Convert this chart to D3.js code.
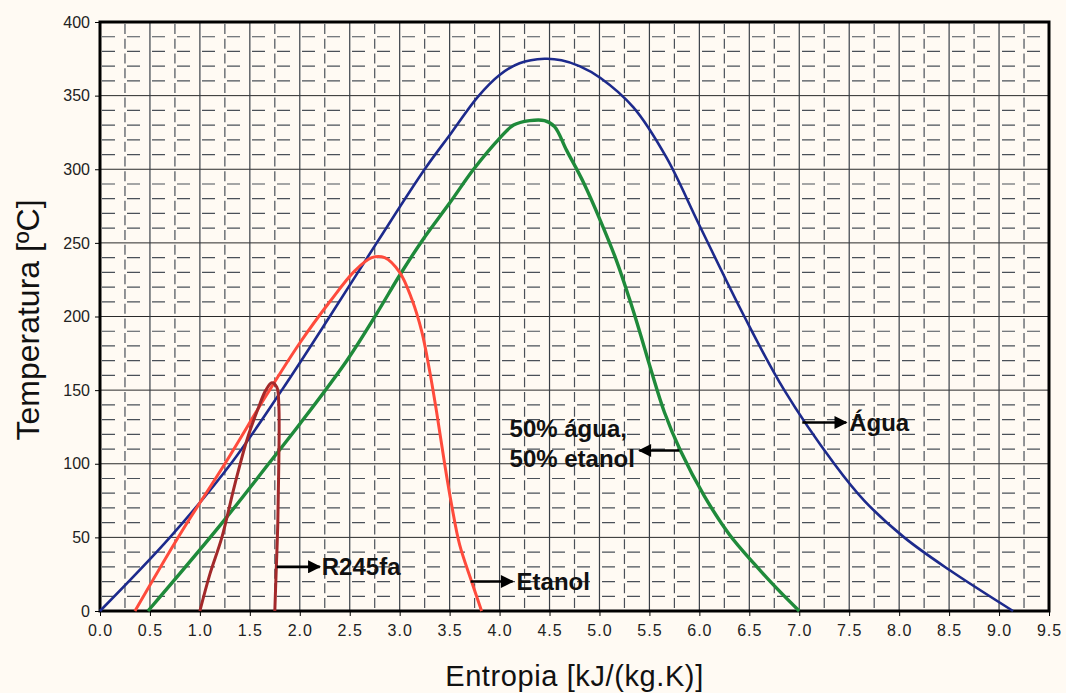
<!DOCTYPE html>
<html>
<head>
<meta charset="utf-8">
<script src="https://cdn.jsdelivr.net/npm/d3@7"></script>
<style>
  body { margin: 0; background: #fffaf3; }
  svg { display: block; font-family: "Liberation Sans", Arial, sans-serif; }
</style>
</head>
<body>
<svg id="chart"></svg>
<script>
// ticks
const xTicks = [0.0, 0.5, 1.0, 1.5, 2.0, 2.5, 3.0, 3.5, 4.0, 4.5, 5.0, 5.5, 6.0, 6.5, 7.0, 7.5, 8.0, 8.5, 9.0, 9.5]
const yTicks = [0, 50, 100, 150, 200, 250, 300, 350, 400]

// Agua (s, T)
const aguaS = [0.0, 0.7, 1.31, 1.82, 2.3, 2.77, 3.25, 3.52, 3.78, 4.0, 4.2, 4.45, 4.62, 4.8, 5.01, 5.34, 5.67, 6.0, 6.45, 6.85, 7.35, 7.65, 8.05, 8.5, 9.14]
const aguaT = [0, 50, 100, 150, 200, 250, 300, 325, 349, 364, 372, 375, 374, 370, 362, 342, 308, 262, 200, 150, 100, 75, 50, 28, 0]

// 50% agua, 50% etanol
const misturaS = [0.48, 1.2, 1.7, 2.0, 2.47, 2.77, 3.0, 3.23, 3.5, 3.74, 4.0, 4.14, 4.3, 4.45, 4.55, 4.67, 4.84, 5.01, 5.17, 5.3, 5.41, 5.51, 5.65, 5.81, 6.05, 6.3, 6.55, 6.78, 7.0]
const misturaT = [0, 58, 101, 127, 170, 202, 228, 252, 277, 300, 321, 330, 333, 333, 329, 313, 291, 265, 238, 212, 188, 165, 135, 109, 78, 52, 32, 15, 0]

// Etanol
const etanolS = [0.35, 0.8, 1.25, 1.67, 2.0, 2.3, 2.55, 2.72, 2.85, 3.0, 3.12, 3.22, 3.3, 3.37, 3.45, 3.52, 3.6, 3.72, 3.82]
const etanolT = [0, 52, 100, 147, 182, 210, 231, 240, 240, 230, 212, 190, 163, 135, 100, 72, 45, 20, 0]

// R245fa
const r245S = [1.0, 1.1, 1.22, 1.35, 1.47, 1.58, 1.66, 1.72, 1.77, 1.79, 1.79, 1.78, 1.76, 1.75]
const r245T = [0, 25, 50, 86, 116, 137, 150, 155, 152, 140, 100, 60, 20, 0]

const W = 1066, H = 693
const margin = { top: 22, right: 17, bottom: 82, left: 100 }

var svg = d3.select('#chart')
    .attr('width', W)
    .attr('height', H)

svg.append('rect').attr('width', W).attr('height', H).attr('fill', '#fffaf3')

var x = d3.scaleLinear().domain([0, 9.5]).range([margin.left, W - margin.right])
var y = d3.scaleLinear().domain([0, 400]).range([H - margin.bottom, margin.top])

//grid - minor dashed
var grid = svg.append('g')
var minorX = d3.range(0.25, 9.5, 0.5)
var minorY = d3.range(10, 400, 10).filter(v => v % 50 != 0)

grid.selectAll('.hminor').data(minorY).enter().append('line')
    .attr('x1', x(0)).attr('x2', x(9.5))
    .attr('y1', d => y(d)).attr('y2', d => y(d))
    .attr('stroke', '#4a5058').attr('stroke-width', 1.2)
    .attr('stroke-dasharray', '13,12')
    .attr('stroke-dashoffset', -2)

grid.selectAll('.vminor').data(minorX).enter().append('line')
    .attr('x1', d => x(d)).attr('x2', d => x(d))
    .attr('y1', y(400)).attr('y2', y(0))
    .attr('stroke', '#4a5058').attr('stroke-width', 1.2)
    .attr('stroke-dasharray', '10,4.72')
    .attr('stroke-dashoffset', -2)

//grid - major solid
grid.selectAll('.hmajor').data(yTicks).enter().append('line')
    .attr('x1', x(0)).attr('x2', x(9.5))
    .attr('y1', d => y(d)).attr('y2', d => y(d))
    .attr('stroke', '#2a2a2a').attr('stroke-width', 1)

grid.selectAll('.vmajor').data(xTicks).enter().append('line')
    .attr('x1', d => x(d)).attr('x2', d => x(d))
    .attr('y1', y(400)).attr('y2', y(0))
    .attr('stroke', '#3a4048').attr('stroke-width', 1.2)

//axes
var x_axis = d3.axisBottom(x)
    .tickValues(xTicks)
    .tickSize(5)
    .tickFormat(d3.format('.1f'))
var y_axis = d3.axisLeft(y)
    .tickValues(yTicks)
    .tickSize(5)

var gx = svg.append('g')
    .attr('transform', 'translate(0,' + y(0) + ')')
    .call(x_axis)
gx.select('.domain').remove()
gx.selectAll('text').attr('font-size', 16).attr('letter-spacing', 1).attr('fill', '#222').attr('dy', '1.05em')

var gy = svg.append('g')
    .attr('transform', 'translate(' + x(0) + ',0)')
    .call(y_axis)
gy.select('.domain').remove()
gy.selectAll('text').attr('font-size', 16).attr('fill', '#222').attr('x', -10)

//frame
svg.append('rect')
    .attr('x', x(0)).attr('y', y(400))
    .attr('width', x(9.5) - x(0)).attr('height', y(0) - y(400))
    .attr('fill', 'none').attr('stroke', '#000').attr('stroke-width', 3)

//curves
var line = d3.line()
    .x(d => x(d[0]))
    .y(d => y(d[1]))
    .curve(d3.curveCatmullRom.alpha(0.5))

var series = [
    { s: aguaS, t: aguaT, color: '#1d2a8c', w: 2.6 },
    { s: misturaS, t: misturaT, color: '#1f8a3a', w: 3.4 },
    { s: etanolS, t: etanolT, color: '#ff4b3c', w: 3 },
    { s: r245S, t: r245T, color: '#a3292a', w: 3 },
]
series.forEach(sr => {
    svg.append('path')
        .attr('d', line(sr.s.map((v, i) => [v, sr.t[i]])))
        .attr('fill', 'none')
        .attr('stroke', sr.color)
        .attr('stroke-width', sr.w)
        .attr('stroke-linejoin', 'round')
})

//labels with arrows
svg.append('defs').append('marker')
    .attr('id', 'arrow')
    .attr('viewBox', '0 0 10 10')
    .attr('refX', 9).attr('refY', 5)
    .attr('markerWidth', 6).attr('markerHeight', 5)
    .attr('markerUnits', 'strokeWidth')
    .attr('orient', 'auto')
    .append('path').attr('d', 'M0,0 L10,5 L0,10 z').attr('fill', '#000')

var labels = [
    { text: ['R245fa'], from: [1.77, 30], to: [2.2, 30], tx: 2.22, ty: 30 },
    { text: ['Etanol'], from: [3.71, 20], to: [4.13, 20], tx: 4.17, ty: 20 },
    { text: ['Água'], from: [7.03, 128], to: [7.47, 128], tx: 7.5, ty: 128 },
    { text: ['50% água,', '50% etanol'], from: [5.8, 109], to: [5.4, 109], tx: 4.1, ty: 124 },
]
labels.forEach(l => {
    svg.append('line')
        .attr('x1', x(l.from[0])).attr('y1', y(l.from[1]))
        .attr('x2', x(l.to[0])).attr('y2', y(l.to[1]))
        .attr('stroke', '#000').attr('stroke-width', 2.6)
        .attr('marker-end', 'url(#arrow)')
    l.text.forEach((t, i) => {
        svg.append('text')
            .attr('x', x(l.tx))
            .attr('y', y(l.ty) + i * 30)
            .attr('dy', '0.36em')
            .attr('font-size', 24)
            .attr('font-weight', 'bold')
            .attr('fill', '#111')
            .text(t)
    })
})

//axis titles
svg.append('text')
    .attr('x', (x(0) + x(9.5)) / 2)
    .attr('y', 686)
    .attr('text-anchor', 'middle')
    .attr('font-size', 29)
    .attr('letter-spacing', 0.6)
    .attr('fill', '#111')
    .text('Entropia [kJ/(kg.K)]')

svg.append('text')
    .attr('transform', 'translate(28,' + 320 + ') rotate(-90)')
    .attr('dy', '0.35em')
    .attr('text-anchor', 'middle')
    .attr('font-size', 32)
    .attr('fill', '#111')
    .text('Temperatura [ºC]')
</script>
</body>
</html>
